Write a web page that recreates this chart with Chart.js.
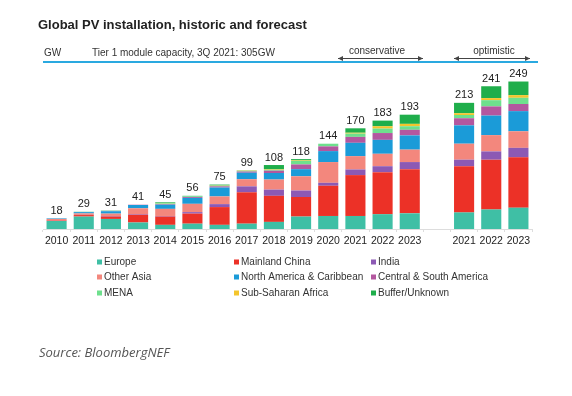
<!DOCTYPE html>
<html>
<head>
<meta charset="utf-8">
<script src="https://cdn.jsdelivr.net/npm/chart.js@4.4.1/dist/chart.umd.min.js"></script>
<style>
    html, body { margin: 0; padding: 0; background: #ffffff; }
    #wrap { width: 572px; height: 396px; }
</style>
</head>
<body>
<div id="wrap"><canvas id="Chart1" width="572" height="396"></canvas></div>
<script>
// categories: 14 historic years, one empty slot, 3 optimistic years
const years = ['2010', '2011', '2012', '2013', '2014', '2015', '2016', '2017', '2018', '2019', '2020', '2021', '2022', '2023', '', '2021', '2022', '2023'];
const totals = [18, 29, 31, 41, 45, 56, 75, 99, 108, 118, 144, 170, 183, 193, null, 213, 241, 249];

// GW per region
const europe = [13.5, 21, 17, 11, 7, 9, 7, 9, 12, 21, 22, 22, 25, 26.5, null, 28, 33, 36];
const mainlandChina = [0.8, 2.5, 4, 13, 14, 17, 30, 53, 44, 33, 51, 69, 71, 74.5, null, 78, 84, 85];
const india = [0.2, 0.3, 1, 1, 1, 2.5, 5, 10, 10.5, 11, 5, 9.5, 10, 12, null, 11, 14, 16];
const otherAsia = [2.5, 2.5, 4, 10, 12, 14, 13, 12, 17, 24, 35, 22.5, 21, 21, null, 27, 27.5, 28];
const northAmerica = [1, 2.2, 4, 5.5, 7, 10, 15, 11, 11, 12, 18.5, 22.5, 23.5, 24, null, 31, 33, 34];
const centralSouthAmerica = [0, 0, 0.5, 0.5, 1, 1.5, 2, 2, 4, 8, 8, 10, 11.5, 9.5, null, 12, 15.5, 12];
const mena = [0, 0, 0, 0, 1, 1, 1, 1, 1.5, 6, 4.5, 5.5, 7.5, 6, null, 5.5, 10.5, 10.5];
const subSaharanAfrica = [0, 0, 0, 0, 0.5, 0, 0.5, 0.5, 1, 1, 0, 1.5, 4, 4, null, 3, 3.5, 4.5];
const bufferUnknown = [0, 0.5, 0.5, 0, 1.5, 1, 1.5, 0.5, 7, 2, 0, 7.5, 9.5, 15.5, null, 17.5, 20, 23];

const seriesNames = ['Europe', 'Mainland China', 'India', 'Other Asia', 'North America & Caribbean',
    'Central & South America', 'MENA', 'Sub-Saharan Africa', 'Buffer/Unknown'];
const seriesData = [europe, mainlandChina, india, otherAsia, northAmerica,
    centralSouthAmerica, mena, subSaharanAfrica, bufferUnknown];
const seriesColors = ['#3fbfa5', '#ec3127', '#8c59b4', '#f3877d', '#1b9bd8',
    '#b3579f', '#6ee08d', '#f4c52c', '#1fae4b'];

const FONT = '"Liberation Sans", Arial, sans-serif';

function drawArrow(ctx, x1, x2, y) {
    ctx.beginPath();
    ctx.moveTo(x1, y);
    ctx.lineTo(x2, y);
    ctx.stroke();
    ctx.beginPath();
    ctx.moveTo(x1, y);
    ctx.lineTo(x1 + 5, y - 2.5);
    ctx.lineTo(x1 + 5, y + 2.5);
    ctx.closePath();
    ctx.fill();
    ctx.beginPath();
    ctx.moveTo(x2, y);
    ctx.lineTo(x2 - 5, y - 2.5);
    ctx.lineTo(x2 - 5, y + 2.5);
    ctx.closePath();
    ctx.fill();
}

const decorations = {
    id: 'decorations',
    afterDraw: function (chart) {
        const ctx = chart.ctx;
        const yScale = chart.scales.y;
        const xScale = chart.scales.x;
        ctx.save();

        // title
        ctx.fillStyle = '#222';
        ctx.textBaseline = 'alphabetic';
        ctx.textAlign = 'left';
        ctx.font = 'bold 13px ' + FONT;
        ctx.fillText('Global PV installation, historic and forecast', 38, 29);

        // header row
        ctx.font = '10px ' + FONT;
        ctx.fillStyle = '#333';
        ctx.fillText('GW', 44, 56);
        ctx.fillText('Tier 1 module capacity, 3Q 2021: 305GW', 92, 56);
        ctx.textAlign = 'center';
        ctx.fillText('conservative', 377, 54);
        ctx.fillText('optimistic', 494, 54);

        ctx.strokeStyle = '#444';
        ctx.fillStyle = '#444';
        ctx.lineWidth = 1;
        drawArrow(ctx, 338, 423, 58.5);
        drawArrow(ctx, 454, 530, 58.5);

        ctx.strokeStyle = '#2aa9e0';
        ctx.lineWidth = 2;
        ctx.beginPath();
        ctx.moveTo(43, 62);
        ctx.lineTo(538, 62);
        ctx.stroke();

        // totals on top of the stacks
        ctx.fillStyle = '#222';
        ctx.font = '11px ' + FONT;
        ctx.textAlign = 'center';
        ctx.textBaseline = 'bottom';
        totals.forEach(function (t, i) {
            if (t === null) return;
            ctx.fillText(String(t), xScale.getPixelForValue(i), yScale.getPixelForValue(t) - 2);
        });

        // legend, 3 columns
        ctx.font = '10px ' + FONT;
        ctx.textAlign = 'left';
        ctx.textBaseline = 'middle';
        const colX = [97, 234, 371];
        const rowY = [262, 277, 293];
        seriesNames.forEach(function (name, i) {
            const cx = colX[i % 3];
            const cy = rowY[Math.floor(i / 3)];
            ctx.fillStyle = seriesColors[i];
            ctx.fillRect(cx, cy - 2.5, 5, 5);
            ctx.fillStyle = '#333';
            ctx.fillText(name, cx + 7, cy);
        });

        // source
        ctx.font = 'italic 13px "Open Sans", sans-serif';
        ctx.fillStyle = '#555';
        ctx.textBaseline = 'alphabetic';
        ctx.fillText('Source: BloombergNEF', 39, 357);

        ctx.restore();
    }
};

const datasets = seriesNames.map(function (name, i) {
    return {
        label: name,
        data: seriesData[i],
        backgroundColor: seriesColors[i],
        borderWidth: 0,
        barPercentage: 0.74,
        categoryPercentage: 1,
        stack: 'pv'
    };
});

const ctx = document.getElementById('Chart1').getContext('2d');
const pvChart = new Chart(ctx, {
    type: 'bar',
    data: {
        labels: years,
        datasets: datasets
    },
    options: {
        responsive: false,
        animation: false,
        devicePixelRatio: 1,
        layout: {
            padding: {left: 43, right: 40, top: 75, bottom: 0}
        },
        plugins: {
            legend: {display: false},
            tooltip: {enabled: false},
            title: {display: false}
        },
        scales: {
            x: {
                stacked: true,
                afterFit: function (scale) { scale.height = 167; },
                border: {display: true, color: '#dddddd'},
                grid: {display: true, drawOnChartArea: false, tickLength: 3, color: '#dddddd', offset: true},
                ticks: {
                    color: '#222',
                    padding: 3,
                    maxRotation: 0,
                    autoSkip: false,
                    font: {family: FONT, size: 10.5}
                }
            },
            y: {
                stacked: true,
                display: false,
                min: 0,
                max: 260
            }
        }
    },
    plugins: [decorations]
});
</script>
</body>
</html>
